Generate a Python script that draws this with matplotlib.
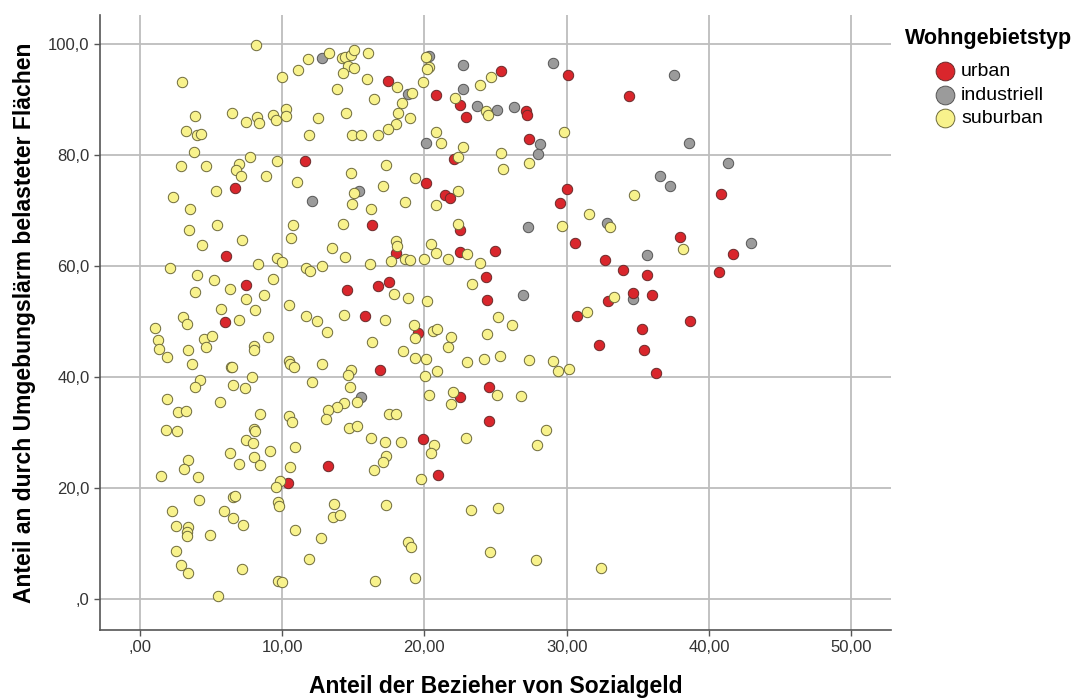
import matplotlib
matplotlib.use('Agg')
import matplotlib.pyplot as plt
import numpy as np

plt.rcParams['font.family'] = ['Liberation Sans', 'DejaVu Sans']

# Anteil Sozialgeld (x) / Anteil Lärmflächen (y), nach Wohngebietstyp
urban_x = [6.67, 17.42, 20.81, 22.52, 22.94, 22.05, 11.61, 20.13, 21.45, 21.82,
           25.42, 30.13, 34.35, 27.11, 27.23, 27.34, 30.06, 29.50, 40.83,
           6.07, 7.45, 6.02,
           16.32, 17.98, 22.47, 22.52, 14.54, 16.71, 17.51, 15.80, 19.57, 16.90, 22.47,
           30.62, 24.93, 32.70, 33.99, 35.68, 24.35, 24.37, 34.69, 32.94, 36.00,
           30.71, 35.30, 32.26, 35.47, 36.31, 24.56,
           38.0, 41.69, 40.69, 38.65,
           10.44, 19.88, 13.20, 20.95, 24.56]
urban_y = [74.2, 93.4, 90.8, 89.1, 87.0, 79.3, 79.0, 75.0, 72.8, 72.4,
           95.2, 94.4, 90.7, 88.0, 87.3, 83.0, 74.0, 71.5, 73.0,
           61.9, 56.6, 50.0,
           67.4, 62.5, 66.5, 62.6, 55.8, 56.4, 57.2, 51.0, 48.0, 41.4, 36.5,
           64.3, 62.8, 61.2, 59.4, 58.5, 58.1, 53.9, 55.2, 53.8, 54.8,
           51.0, 48.8, 45.9, 45.0, 40.8, 38.2,
           65.3, 62.2, 59.0, 50.1,
           20.9, 28.9, 24.0, 22.5, 32.1]

ind_x = [12.81, 18.82, 20.30, 22.71, 22.75, 23.69, 20.13, 15.43, 12.08,
         29.03, 37.53, 25.10, 26.33, 28.12, 28.00, 36.57, 37.25,
         38.62, 41.32, 15.57,
         27.27, 32.82, 35.68, 26.90, 34.69, 42.98]
ind_y = [97.6, 91.0, 98.0, 96.3, 92.0, 88.9, 82.2, 73.6, 71.8,
         96.7, 94.4, 88.2, 88.8, 82.0, 80.2, 76.3, 74.5,
         82.2, 78.7, 36.4,
         67.1, 67.9, 62.1, 54.8, 54.2, 64.3]

sub_x = [8.20, 2.93, 10.0, 3.86, 6.49, 7.49, 8.24, 8.41, 9.37, 9.58, 10.30, 10.30,
         3.26, 4.03, 4.33, 3.82, 7.75, 9.63, 2.86, 4.68, 6.96, 6.79, 7.10, 8.85,
         5.34, 2.30, 3.51,
         11.15, 11.80, 13.32, 14.21, 14.40, 14.87, 15.03, 14.61, 15.08, 14.26, 16.04,
         15.94, 13.86, 18.05, 19.13, 16.48, 18.43, 14.47, 12.53, 18.14, 19.01, 17.98,
         17.44, 11.87, 14.94, 15.55, 16.74, 20.09, 20.32, 20.15, 19.89, 23.88, 22.12,
         20.83, 21.14, 22.71, 22.36, 17.28, 14.87, 11.05, 19.36, 17.07, 15.03, 22.33,
         14.94, 16.22, 18.61, 20.79,
         24.65, 24.35, 24.49, 29.78, 25.40, 25.52, 27.32, 34.76, 31.60,
         3.47, 5.39, 4.40, 7.19, 8.34, 9.67, 10.00, 10.77, 10.66, 2.11, 4.00, 5.20,
         9.39, 6.32, 3.86, 7.45, 8.74, 10.47, 5.69, 8.10, 3.02, 3.30, 6.98, 1.05,
         1.31, 1.36, 1.90, 4.50, 5.06, 4.68, 3.40, 8.01, 8.03, 8.99, 3.70, 6.42,
         6.51, 10.49, 10.54, 10.82, 7.89, 4.24, 3.86, 6.56, 7.40, 1.92, 5.62, 2.67,
         3.26, 8.43,
         14.31, 13.53, 14.45, 18.00, 18.10, 18.66, 18.96, 17.68, 16.20, 19.95, 20.49,
         20.81, 21.66, 22.38, 23.01, 23.93, 11.68, 11.99, 12.78, 17.86, 18.82, 20.18,
         23.32, 11.66, 12.48, 13.18, 14.35, 17.23, 19.24, 19.34, 20.60, 20.91, 21.84,
         21.68, 16.32, 18.52, 19.34, 20.11, 22.99, 24.22, 12.78, 14.84, 14.63, 20.04,
         20.88, 12.08, 14.80, 15.29, 14.33, 13.86, 13.23, 20.34, 21.98, 21.89, 17.49,
         18.03,
         29.64, 33.05, 33.34, 31.42, 25.17, 26.13, 24.42, 25.33, 27.32, 29.03, 29.38,
         30.18, 25.12, 26.81, 38.2,
         10.47, 10.73, 1.87, 2.58, 8.03, 8.10, 7.45, 7.96, 10.94, 9.13, 6.32, 8.01,
         6.98, 8.43, 3.37, 3.11, 10.54, 1.48, 4.10, 9.88, 9.60, 4.15, 6.53, 6.67,
         9.72, 9.81, 2.27, 5.93, 6.56, 7.24, 2.55, 3.37, 3.28, 3.30, 4.96, 10.91,
         2.55, 2.88, 3.42, 7.17, 9.70, 9.98, 5.50,
         13.07, 14.68, 15.29, 16.27, 17.21, 18.33, 20.70, 20.44, 22.92, 17.30, 17.09,
         16.46, 19.73, 13.63, 13.56, 14.07, 17.30, 23.29, 12.76, 18.82, 19.08, 11.87,
         16.55, 19.34,
         28.56, 27.93, 25.19, 24.60, 27.83, 32.42]
sub_y = [99.9, 93.2, 94.2, 87.1, 87.6, 86.1, 87.0, 85.9, 87.2, 86.4, 88.3, 87.1,
         84.4, 83.6, 83.8, 80.7, 79.7, 79.0, 78.1, 78.1, 78.4, 77.3, 76.3, 76.3,
         73.5, 72.5, 70.4,
         95.4, 97.4, 98.4, 97.5, 97.7, 98.1, 99.0, 96.1, 95.8, 94.9, 98.5,
         93.7, 92.0, 92.4, 91.2, 90.1, 89.5, 87.7, 86.7, 87.6, 86.8, 85.6,
         84.7, 83.7, 83.7, 83.7, 83.7, 97.8, 95.9, 95.5, 93.3, 92.7, 90.3,
         84.2, 82.2, 81.6, 79.8, 78.2, 76.9, 75.2, 75.9, 74.5, 73.3, 73.6,
         71.2, 70.3, 71.6, 71.1,
         94.2, 88.0, 87.2, 84.2, 80.5, 77.5, 78.6, 72.8, 69.4,
         66.6, 67.5, 63.8, 64.7, 60.5, 61.6, 60.8, 67.4, 65.2, 59.8, 58.5, 57.6,
         57.7, 55.9, 55.4, 54.2, 54.8, 53.0, 52.4, 52.1, 50.9, 49.6, 50.3, 48.9,
         46.7, 45.1, 43.7, 47.0, 47.4, 45.5, 44.9, 45.7, 44.9, 47.3, 42.4, 41.8,
         41.9, 43.0, 42.5, 41.8, 40.1, 39.6, 38.3, 38.6, 38.1, 36.2, 35.5, 33.8,
         33.9, 33.5,
         67.7, 63.3, 61.7, 64.6, 63.7, 61.3, 61.1, 61.0, 60.5, 61.3, 64.1,
         62.5, 61.4, 67.7, 62.3, 60.7, 59.7, 59.2, 60.1, 55.1, 54.3, 53.7,
         56.8, 51.0, 50.2, 48.2, 51.2, 50.4, 49.4, 47.1, 48.4, 48.8, 47.2,
         45.4, 46.3, 44.8, 43.5, 43.4, 42.8, 43.4, 42.4, 41.4, 40.5, 40.3,
         41.2, 39.2, 38.3, 35.5, 35.4, 34.6, 34.1, 36.9, 37.4, 35.2, 33.4,
         33.4,
         67.2, 67.1, 54.5, 51.7, 50.8, 49.4, 47.8, 43.8, 43.2, 42.9, 41.2,
         41.6, 36.9, 36.7, 63.1,
         33.0, 31.9, 30.5, 30.4, 30.8, 30.4, 28.7, 28.1, 27.4, 26.8, 26.3, 25.7,
         24.4, 24.3, 25.1, 23.5, 23.9, 22.3, 22.1, 21.4, 20.2, 18.0, 18.5, 18.7,
         17.6, 16.9, 15.9, 15.9, 14.7, 13.4, 13.3, 13.0, 12.1, 11.5, 11.6, 12.6,
         8.7, 6.2, 4.8, 5.5, 3.4, 3.2, 0.6,
         32.6, 30.9, 31.2, 29.1, 28.3, 28.4, 27.8, 26.4, 29.1, 25.9, 24.8,
         23.4, 21.7, 17.2, 14.8, 15.2, 17.1, 16.1, 11.0, 10.3, 9.5, 7.3,
         3.4, 3.9,
         30.6, 27.9, 16.5, 8.5, 7.2, 5.7]

x_ticks = [0, 10, 20, 30, 40, 50]
x_ticklabels = [',00', '10,00', '20,00', '30,00', '40,00', '50,00']
y_ticks = [0, 20, 40, 60, 80, 100]
y_ticklabels = [',0', '20,0', '40,0', '60,0', '80,0', '100,0']

fig = plt.figure(figsize=(10.8, 7.0), dpi=100)
ax = fig.add_axes([0.0926, 0.1, 0.7324, 0.8786])

ms = 56
ax.scatter(ind_x, ind_y, s=ms, c='#9B9B9B', edgecolors='#555555', linewidths=0.7,
           label='industriell', zorder=3)
ax.scatter(urban_x, urban_y, s=ms, c='#D9262C', edgecolors='#6B2A2A', linewidths=0.7,
           label='urban', zorder=3)
ax.scatter(sub_x, sub_y, s=ms, c='#F8F28C', edgecolors='#6E6A3A', linewidths=0.7,
           label='suburban', zorder=3)

ax.set_xlim(-2.8, 52.8)
ax.set_ylim(-5.5, 105.3)
ax.set_xticks(x_ticks)
ax.set_xticklabels(x_ticklabels)
ax.set_yticks(y_ticks)
ax.set_yticklabels(y_ticklabels)
ax.grid(True, color='#BDBDBD', linewidth=1.3, zorder=0)
ax.set_axisbelow(True)

ax.spines['top'].set_visible(False)
ax.spines['right'].set_visible(False)
for s in ['left', 'bottom']:
    ax.spines[s].set_color('#555555')
    ax.spines[s].set_linewidth(1.2)
ax.tick_params(axis='both', colors='#555555', labelcolor='#333333', labelsize=12,
               length=4, width=1)

ax.set_xlabel('Anteil der Bezieher von Sozialgeld', fontsize=16.5, fontweight='bold',
              labelpad=14)
ax.set_ylabel('Anteil an durch Umgebungslärm belasteter Flächen', fontsize=16.5,
              fontweight='bold', labelpad=9)

handles, labels = ax.get_legend_handles_labels()
order = [labels.index(l) for l in ['urban', 'industriell', 'suburban']]
leg = fig.legend([handles[i] for i in order], [labels[i] for i in order],
                 loc='upper left', bbox_to_anchor=(0.822, 0.985), frameon=False,
                 title='Wohngebietstyp', title_fontproperties={'weight': 'bold', 'size': 15.5},
                 fontsize=14, markerscale=1.8, handletextpad=0.2, labelspacing=0.3,
                 handlelength=1.2)
leg._legend_box.sep = 10

plt.savefig('out.png', dpi=100)
